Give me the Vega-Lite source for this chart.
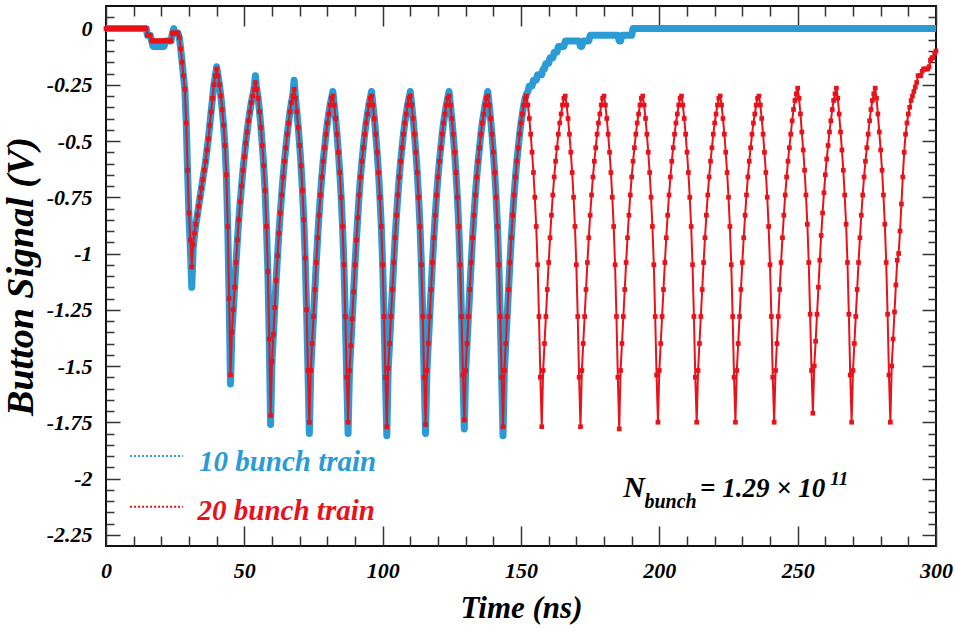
{
"$schema": "https://vega.github.io/schema/vega-lite/v6.json",
"width": 830, "height": 540,
"autosize": {"type": "none"},
"padding": {"left": 106, "top": 6, "right": 19, "bottom": 85},
"background": "white",
"config": {"view": {"stroke": "#111", "strokeWidth": 2}, "axis": {"grid": false, "domain": false, "tickColor": "#333", "tickWidth": 1.5, "labelFont": "Liberation Serif", "labelFontWeight": "bold", "labelFontStyle": "italic", "labelColor": "black", "titleFont": "Liberation Serif", "titleFontWeight": "bold", "titleFontStyle": "italic", "titleColor": "black"}},
"data": {"values": [
{"t":0,"r":0,"b":0},{"t":0.5,"r":0,"b":0},{"t":1,"r":0,"b":0},{"t":1.5,"r":0,"b":0},{"t":2,"r":0,"b":0},{"t":2.5,"r":0,"b":0},{"t":3,"r":0,"b":0},{"t":3.5,"r":0,"b":0},{"t":4,"r":0,"b":0},{"t":4.5,"r":0,"b":0},{"t":5,"r":0,"b":0},{"t":5.5,"r":0,"b":0},{"t":6,"r":0,"b":0},{"t":6.5,"r":0,"b":0},{"t":7,"r":0,"b":0},{"t":7.5,"r":0,"b":0},{"t":8,"r":0,"b":0},{"t":8.5,"r":0,"b":0},{"t":9,"r":0,"b":0},{"t":9.5,"r":0,"b":0},{"t":10,"r":0,"b":0},{"t":10.5,"r":0,"b":0},{"t":11,"r":0,"b":0},{"t":11.5,"r":0,"b":0},{"t":12,"r":0,"b":0},{"t":12.5,"r":0,"b":0},{"t":13,"r":0,"b":0},{"t":13.5,"r":0,"b":0},{"t":14,"r":0,"b":0},{"t":14.5,"r":0,"b":0},
{"t":15,"r":-0.03,"b":-0.03},{"t":15.5,"r":-0.03,"b":-0.03},{"t":16,"r":-0.03,"b":-0.03},{"t":16.5,"r":-0.055,"b":-0.055},{"t":17,"r":-0.055,"b":-0.08},{"t":17.5,"r":-0.055,"b":-0.08},{"t":18,"r":-0.055,"b":-0.08},{"t":18.5,"r":-0.055,"b":-0.08},{"t":19,"r":-0.055,"b":-0.08},{"t":19.5,"r":-0.055,"b":-0.08},{"t":20,"r":-0.055,"b":-0.08},{"t":20.5,"r":-0.055,"b":-0.08},{"t":21,"r":-0.055,"b":-0.08},{"t":21.5,"r":-0.055,"b":-0.055},{"t":22,"r":-0.055,"b":-0.055},{"t":22.5,"r":-0.055,"b":-0.055},{"t":23,"r":-0.055,"b":-0.055},{"t":23.5,"r":-0.055,"b":-0.055},{"t":24,"r":-0.02,"b":-0.02},{"t":24.5,"r":-0.02,"b":0},{"t":25,"r":-0.02,"b":-0.02},{"t":25.5,"r":-0.02,"b":-0.02},{"t":26,"r":-0.02,"b":-0.02},{"t":26.5,"r":-0.04,"b":-0.04},{"t":27,"r":-0.09,"b":-0.09},{"t":27.5,"r":-0.15,"b":-0.15},{"t":28,"r":-0.21,"b":-0.21},{"t":28.5,"r":-0.27,"b":-0.27},{"t":29,"r":-0.42,"b":-0.42},{"t":29.5,"r":-0.63,"b":-0.64},{"t":30,"r":-0.82,"b":-0.84},{"t":30.5,"r":-0.94,"b":-0.98},{"t":31,"r":-1.06,"b":-1.15},{"t":31.5,"r":-0.96,"b":-0.98},{"t":32,"r":-0.91,"b":-0.92},{"t":32.5,"r":-0.87,"b":-0.87},{"t":33,"r":-0.83,"b":-0.83},{"t":33.5,"r":-0.79,"b":-0.79},{"t":34,"r":-0.75,"b":-0.75},{"t":34.5,"r":-0.71,"b":-0.71},{"t":35,"r":-0.67,"b":-0.67},{"t":35.5,"r":-0.63,"b":-0.63},{"t":36,"r":-0.59,"b":-0.59},{"t":36.5,"r":-0.54,"b":-0.54},{"t":37,"r":-0.49,"b":-0.49},{"t":37.5,"r":-0.43,"b":-0.43},{"t":38,"r":-0.37,"b":-0.37},{"t":38.5,"r":-0.31,"b":-0.31},{"t":39,"r":-0.25,"b":-0.25},{"t":39.5,"r":-0.21,"b":-0.21},{"t":40,"r":-0.18,"b":-0.17},{"t":40.5,"r":-0.21,"b":-0.21},{"t":41,"r":-0.25,"b":-0.25},{"t":41.5,"r":-0.3,"b":-0.3},{"t":42,"r":-0.36,"b":-0.36},{"t":42.5,"r":-0.43,"b":-0.43},{"t":43,"r":-0.52,"b":-0.52},{"t":43.5,"r":-0.65,"b":-0.65},{"t":44,"r":-0.88,"b":-0.88},{"t":44.5,"r":-1.2,"b":-1.2},
{"t":45,"r":-1.54,"b":-1.58},{"t":45.5,"r":-1.35,"b":-1.35},{"t":46,"r":-1.25,"b":-1.25},{"t":46.5,"r":-1.15,"b":-1.15},{"t":47,"r":-1.04,"b":-1.04},{"t":47.5,"r":-0.94,"b":-0.94},{"t":48,"r":-0.85,"b":-0.85},{"t":48.5,"r":-0.77,"b":-0.77},{"t":49,"r":-0.7,"b":-0.7},{"t":49.5,"r":-0.63,"b":-0.63},{"t":50,"r":-0.57,"b":-0.57},{"t":50.5,"r":-0.51,"b":-0.51},{"t":51,"r":-0.46,"b":-0.46},{"t":51.5,"r":-0.41,"b":-0.41},{"t":52,"r":-0.37,"b":-0.37},{"t":52.5,"r":-0.33,"b":-0.33},{"t":53,"r":-0.3,"b":-0.3},{"t":53.5,"r":-0.27,"b":-0.27},{"t":54,"r":-0.24,"b":-0.21},{"t":54.5,"r":-0.27,"b":-0.27},{"t":55,"r":-0.31,"b":-0.31},{"t":55.5,"r":-0.37,"b":-0.37},{"t":56,"r":-0.44,"b":-0.44},{"t":56.5,"r":-0.52,"b":-0.52},{"t":57,"r":-0.61,"b":-0.61},{"t":57.5,"r":-0.72,"b":-0.72},{"t":58,"r":-0.88,"b":-0.88},{"t":58.5,"r":-1.08,"b":-1.08},{"t":59,"r":-1.38,"b":-1.38},
{"t":59.5,"r":-1.72,"b":-1.76},{"t":60,"r":-1.48,"b":-1.48},{"t":60.5,"r":-1.36,"b":-1.36},{"t":61,"r":-1.24,"b":-1.24},{"t":61.5,"r":-1.12,"b":-1.12},{"t":62,"r":-1.01,"b":-1.01},{"t":62.5,"r":-0.91,"b":-0.91},{"t":63,"r":-0.82,"b":-0.82},{"t":63.5,"r":-0.74,"b":-0.74},{"t":64,"r":-0.66,"b":-0.66},{"t":64.5,"r":-0.59,"b":-0.59},{"t":65,"r":-0.53,"b":-0.53},{"t":65.5,"r":-0.47,"b":-0.47},{"t":66,"r":-0.42,"b":-0.42},{"t":66.5,"r":-0.37,"b":-0.37},{"t":67,"r":-0.33,"b":-0.33},{"t":67.5,"r":-0.3,"b":-0.3},{"t":68,"r":-0.27,"b":-0.23},{"t":68.5,"r":-0.31,"b":-0.31},{"t":69,"r":-0.37,"b":-0.37},{"t":69.5,"r":-0.44,"b":-0.44},{"t":70,"r":-0.52,"b":-0.52},{"t":70.5,"r":-0.61,"b":-0.61},{"t":71,"r":-0.72,"b":-0.72},{"t":71.5,"r":-0.85,"b":-0.85},{"t":72,"r":-1.02,"b":-1.02},{"t":72.5,"r":-1.25,"b":-1.25},{"t":73,"r":-1.52,"b":-1.52},
{"t":73.5,"r":-1.75,"b":-1.8},{"t":74,"r":-1.52,"b":-1.52},{"t":74.5,"r":-1.4,"b":-1.4},{"t":75,"r":-1.28,"b":-1.28},{"t":75.5,"r":-1.16,"b":-1.16},{"t":76,"r":-1.04,"b":-1.04},{"t":76.5,"r":-0.93,"b":-0.93},{"t":77,"r":-0.83,"b":-0.83},{"t":77.5,"r":-0.74,"b":-0.74},{"t":78,"r":-0.66,"b":-0.66},{"t":78.5,"r":-0.59,"b":-0.59},{"t":79,"r":-0.53,"b":-0.53},{"t":79.5,"r":-0.47,"b":-0.47},{"t":80,"r":-0.42,"b":-0.42},{"t":80.5,"r":-0.38,"b":-0.38},{"t":81,"r":-0.34,"b":-0.34},{"t":81.5,"r":-0.31,"b":-0.31},{"t":82,"r":-0.3,"b":-0.28},{"t":82.5,"r":-0.34,"b":-0.34},{"t":83,"r":-0.4,"b":-0.4},{"t":83.5,"r":-0.47,"b":-0.47},{"t":84,"r":-0.55,"b":-0.55},{"t":84.5,"r":-0.64,"b":-0.64},{"t":85,"r":-0.75,"b":-0.75},{"t":85.5,"r":-0.88,"b":-0.88},{"t":86,"r":-1.05,"b":-1.05},{"t":86.5,"r":-1.28,"b":-1.28},{"t":87,"r":-1.55,"b":-1.55},
{"t":87.5,"r":-1.75,"b":-1.8},{"t":88,"r":-1.52,"b":-1.52},{"t":88.5,"r":-1.41,"b":-1.41},{"t":89,"r":-1.29,"b":-1.29},{"t":89.5,"r":-1.17,"b":-1.17},{"t":90,"r":-1.05,"b":-1.05},{"t":90.5,"r":-0.94,"b":-0.94},{"t":91,"r":-0.84,"b":-0.84},{"t":91.5,"r":-0.74,"b":-0.74},{"t":92,"r":-0.66,"b":-0.66},{"t":92.5,"r":-0.59,"b":-0.59},{"t":93,"r":-0.53,"b":-0.53},{"t":93.5,"r":-0.47,"b":-0.47},{"t":94,"r":-0.42,"b":-0.42},{"t":94.5,"r":-0.38,"b":-0.38},{"t":95,"r":-0.34,"b":-0.34},{"t":95.5,"r":-0.31,"b":-0.31},{"t":96,"r":-0.3,"b":-0.28},{"t":96.5,"r":-0.34,"b":-0.34},{"t":97,"r":-0.4,"b":-0.4},{"t":97.5,"r":-0.47,"b":-0.47},{"t":98,"r":-0.55,"b":-0.55},{"t":98.5,"r":-0.64,"b":-0.64},{"t":99,"r":-0.75,"b":-0.75},{"t":99.5,"r":-0.88,"b":-0.88},{"t":100,"r":-1.05,"b":-1.05},{"t":100.5,"r":-1.28,"b":-1.28},{"t":101,"r":-1.55,"b":-1.55},
{"t":101.5,"r":-1.77,"b":-1.81},{"t":102,"r":-1.51,"b":-1.51},{"t":102.5,"r":-1.4,"b":-1.4},{"t":103,"r":-1.28,"b":-1.28},{"t":103.5,"r":-1.16,"b":-1.16},{"t":104,"r":-1.04,"b":-1.04},{"t":104.5,"r":-0.93,"b":-0.93},{"t":105,"r":-0.83,"b":-0.83},{"t":105.5,"r":-0.74,"b":-0.74},{"t":106,"r":-0.66,"b":-0.66},{"t":106.5,"r":-0.59,"b":-0.59},{"t":107,"r":-0.53,"b":-0.53},{"t":107.5,"r":-0.47,"b":-0.47},{"t":108,"r":-0.42,"b":-0.42},{"t":108.5,"r":-0.38,"b":-0.38},{"t":109,"r":-0.34,"b":-0.34},{"t":109.5,"r":-0.31,"b":-0.31},{"t":110,"r":-0.3,"b":-0.28},{"t":110.5,"r":-0.34,"b":-0.34},{"t":111,"r":-0.4,"b":-0.4},{"t":111.5,"r":-0.47,"b":-0.47},{"t":112,"r":-0.55,"b":-0.55},{"t":112.5,"r":-0.64,"b":-0.64},{"t":113,"r":-0.75,"b":-0.75},{"t":113.5,"r":-0.88,"b":-0.88},{"t":114,"r":-1.05,"b":-1.05},{"t":114.5,"r":-1.28,"b":-1.28},{"t":115,"r":-1.55,"b":-1.55},
{"t":115.5,"r":-1.76,"b":-1.8},{"t":116,"r":-1.52,"b":-1.52},{"t":116.5,"r":-1.4,"b":-1.4},{"t":117,"r":-1.28,"b":-1.28},{"t":117.5,"r":-1.16,"b":-1.16},{"t":118,"r":-1.04,"b":-1.04},{"t":118.5,"r":-0.93,"b":-0.93},{"t":119,"r":-0.83,"b":-0.83},{"t":119.5,"r":-0.74,"b":-0.74},{"t":120,"r":-0.66,"b":-0.66},{"t":120.5,"r":-0.59,"b":-0.59},{"t":121,"r":-0.53,"b":-0.53},{"t":121.5,"r":-0.47,"b":-0.47},{"t":122,"r":-0.42,"b":-0.42},{"t":122.5,"r":-0.38,"b":-0.38},{"t":123,"r":-0.34,"b":-0.34},{"t":123.5,"r":-0.31,"b":-0.31},{"t":124,"r":-0.3,"b":-0.28},{"t":124.5,"r":-0.34,"b":-0.34},{"t":125,"r":-0.4,"b":-0.4},{"t":125.5,"r":-0.47,"b":-0.47},{"t":126,"r":-0.55,"b":-0.55},{"t":126.5,"r":-0.64,"b":-0.64},{"t":127,"r":-0.75,"b":-0.75},{"t":127.5,"r":-0.88,"b":-0.88},{"t":128,"r":-1.05,"b":-1.05},{"t":128.5,"r":-1.28,"b":-1.28},{"t":129,"r":-1.54,"b":-1.54},
{"t":129.5,"r":-1.74,"b":-1.78},{"t":130,"r":-1.52,"b":-1.52},{"t":130.5,"r":-1.4,"b":-1.4},{"t":131,"r":-1.28,"b":-1.28},{"t":131.5,"r":-1.16,"b":-1.16},{"t":132,"r":-1.04,"b":-1.04},{"t":132.5,"r":-0.93,"b":-0.93},{"t":133,"r":-0.83,"b":-0.83},{"t":133.5,"r":-0.74,"b":-0.74},{"t":134,"r":-0.66,"b":-0.66},{"t":134.5,"r":-0.59,"b":-0.59},{"t":135,"r":-0.53,"b":-0.53},{"t":135.5,"r":-0.47,"b":-0.47},{"t":136,"r":-0.42,"b":-0.42},{"t":136.5,"r":-0.38,"b":-0.38},{"t":137,"r":-0.34,"b":-0.34},{"t":137.5,"r":-0.31,"b":-0.31},{"t":138,"r":-0.3,"b":-0.28},{"t":138.5,"r":-0.34,"b":-0.34},{"t":139,"r":-0.4,"b":-0.4},{"t":139.5,"r":-0.47,"b":-0.47},{"t":140,"r":-0.55,"b":-0.55},{"t":140.5,"r":-0.64,"b":-0.64},{"t":141,"r":-0.75,"b":-0.75},{"t":141.5,"r":-0.88,"b":-0.88},{"t":142,"r":-1.05,"b":-1.05},{"t":142.5,"r":-1.28,"b":-1.28},{"t":143,"r":-1.55,"b":-1.55},
{"t":143.5,"r":-1.77,"b":-1.81},{"t":144,"r":-1.52,"b":-1.52},{"t":144.5,"r":-1.4,"b":-1.4},{"t":145,"r":-1.28,"b":-1.28},{"t":145.5,"r":-1.16,"b":-1.16},{"t":146,"r":-1.04,"b":-1.04},{"t":146.5,"r":-0.93,"b":-0.93},{"t":147,"r":-0.83,"b":-0.83},{"t":147.5,"r":-0.74,"b":-0.74},{"t":148,"r":-0.66,"b":-0.66},{"t":148.5,"r":-0.59,"b":-0.59},{"t":149,"r":-0.53,"b":-0.53},{"t":149.5,"r":-0.47,"b":-0.47},{"t":150,"r":-0.42,"b":-0.42},{"t":150.5,"r":-0.38,"b":-0.38},{"t":151,"r":-0.34,"b":-0.34},{"t":151.5,"r":-0.31,"b":-0.31},{"t":152,"r":-0.3,"b":-0.29},{"t":152.5,"r":-0.34,"b":-0.28},{"t":153,"r":-0.4,"b":-0.255},{"t":153.5,"r":-0.47,"b":-0.255},{"t":154,"r":-0.55,"b":-0.255},{"t":154.5,"r":-0.64,"b":-0.23},{"t":155,"r":-0.75,"b":-0.23},{"t":155.5,"r":-0.88,"b":-0.23},{"t":156,"r":-1.05,"b":-0.205},{"t":156.5,"r":-1.28,"b":-0.205},{"t":157,"r":-1.55,"b":-0.205},
{"t":157.5,"r":-1.77,"b":-0.205},{"t":158,"r":-1.52,"b":-0.18},{"t":158.5,"r":-1.4,"b":-0.18},{"t":159,"r":-1.28,"b":-0.155},{"t":159.5,"r":-1.16,"b":-0.155},{"t":160,"r":-1.04,"b":-0.155},{"t":160.5,"r":-0.93,"b":-0.13},{"t":161,"r":-0.83,"b":-0.13},{"t":161.5,"r":-0.74,"b":-0.13},{"t":162,"r":-0.66,"b":-0.105},{"t":162.5,"r":-0.59,"b":-0.105},{"t":163,"r":-0.53,"b":-0.105},{"t":163.5,"r":-0.47,"b":-0.08},{"t":164,"r":-0.42,"b":-0.08},{"t":164.5,"r":-0.38,"b":-0.08},{"t":165,"r":-0.34,"b":-0.08},{"t":165.5,"r":-0.31,"b":-0.08},{"t":166,"r":-0.3,"b":-0.055},{"t":166.5,"r":-0.34,"b":-0.055},{"t":167,"r":-0.4,"b":-0.055},{"t":167.5,"r":-0.47,"b":-0.055},{"t":168,"r":-0.55,"b":-0.055},{"t":168.5,"r":-0.64,"b":-0.055},{"t":169,"r":-0.75,"b":-0.055},{"t":169.5,"r":-0.88,"b":-0.055},{"t":170,"r":-1.05,"b":-0.055},{"t":170.5,"r":-1.28,"b":-0.055},{"t":171,"r":-1.55,"b":-0.055},
{"t":171.5,"r":-1.77,"b":-0.08},{"t":172,"r":-1.52,"b":-0.08},{"t":172.5,"r":-1.4,"b":-0.055},{"t":173,"r":-1.28,"b":-0.055},{"t":173.5,"r":-1.16,"b":-0.055},{"t":174,"r":-1.04,"b":-0.055},{"t":174.5,"r":-0.93,"b":-0.055},{"t":175,"r":-0.83,"b":-0.03},{"t":175.5,"r":-0.74,"b":-0.03},{"t":176,"r":-0.66,"b":-0.03},{"t":176.5,"r":-0.59,"b":-0.03},{"t":177,"r":-0.53,"b":-0.03},{"t":177.5,"r":-0.47,"b":-0.03},{"t":178,"r":-0.42,"b":-0.03},{"t":178.5,"r":-0.38,"b":-0.03},{"t":179,"r":-0.34,"b":-0.03},{"t":179.5,"r":-0.31,"b":-0.03},{"t":180,"r":-0.3,"b":-0.03},{"t":180.5,"r":-0.34,"b":-0.03},{"t":181,"r":-0.4,"b":-0.03},{"t":181.5,"r":-0.47,"b":-0.03},{"t":182,"r":-0.55,"b":-0.03},{"t":182.5,"r":-0.64,"b":-0.03},{"t":183,"r":-0.75,"b":-0.03},{"t":183.5,"r":-0.88,"b":-0.03},{"t":184,"r":-1.05,"b":-0.03},{"t":184.5,"r":-1.28,"b":-0.03},{"t":185,"r":-1.55,"b":-0.03},
{"t":185.5,"r":-1.78,"b":-0.055},{"t":186,"r":-1.52,"b":-0.055},{"t":186.5,"r":-1.4,"b":-0.03},{"t":187,"r":-1.28,"b":-0.03},{"t":187.5,"r":-1.16,"b":-0.03},{"t":188,"r":-1.04,"b":-0.03},{"t":188.5,"r":-0.93,"b":-0.03},{"t":189,"r":-0.83,"b":-0.03},{"t":189.5,"r":-0.74,"b":-0.03},{"t":190,"r":-0.66,"b":-0.03},{"t":190.5,"r":-0.59,"b":0},{"t":191,"r":-0.53,"b":0},{"t":191.5,"r":-0.47,"b":0},{"t":192,"r":-0.42,"b":0},{"t":192.5,"r":-0.38,"b":0},{"t":193,"r":-0.34,"b":0},{"t":193.5,"r":-0.31,"b":0},{"t":194,"r":-0.3,"b":0},{"t":194.5,"r":-0.34,"b":0},{"t":195,"r":-0.4,"b":0},{"t":195.5,"r":-0.47,"b":0},{"t":196,"r":-0.55,"b":0},{"t":196.5,"r":-0.64,"b":0},{"t":197,"r":-0.75,"b":0},{"t":197.5,"r":-0.88,"b":0},{"t":198,"r":-1.05,"b":0},{"t":198.5,"r":-1.28,"b":0},{"t":199,"r":-1.54,"b":0},
{"t":199.5,"r":-1.75,"b":0},{"t":200,"r":-1.52,"b":0},{"t":200.5,"r":-1.4,"b":0},{"t":201,"r":-1.28,"b":0},{"t":201.5,"r":-1.16,"b":0},{"t":202,"r":-1.04,"b":0},{"t":202.5,"r":-0.93,"b":0},{"t":203,"r":-0.83,"b":0},{"t":203.5,"r":-0.74,"b":0},{"t":204,"r":-0.66,"b":0},{"t":204.5,"r":-0.59,"b":0},{"t":205,"r":-0.53,"b":0},{"t":205.5,"r":-0.47,"b":0},{"t":206,"r":-0.42,"b":0},{"t":206.5,"r":-0.38,"b":0},{"t":207,"r":-0.34,"b":0},{"t":207.5,"r":-0.31,"b":0},{"t":208,"r":-0.3,"b":0},{"t":208.5,"r":-0.34,"b":0},{"t":209,"r":-0.4,"b":0},{"t":209.5,"r":-0.47,"b":0},{"t":210,"r":-0.55,"b":0},{"t":210.5,"r":-0.64,"b":0},{"t":211,"r":-0.75,"b":0},{"t":211.5,"r":-0.88,"b":0},{"t":212,"r":-1.05,"b":0},{"t":212.5,"r":-1.28,"b":0},{"t":213,"r":-1.55,"b":0},
{"t":213.5,"r":-1.75,"b":0},{"t":214,"r":-1.52,"b":0},{"t":214.5,"r":-1.4,"b":0},{"t":215,"r":-1.28,"b":0},{"t":215.5,"r":-1.16,"b":0},{"t":216,"r":-1.04,"b":0},{"t":216.5,"r":-0.93,"b":0},{"t":217,"r":-0.83,"b":0},{"t":217.5,"r":-0.74,"b":0},{"t":218,"r":-0.66,"b":0},{"t":218.5,"r":-0.59,"b":0},{"t":219,"r":-0.53,"b":0},{"t":219.5,"r":-0.47,"b":0},{"t":220,"r":-0.42,"b":0},{"t":220.5,"r":-0.38,"b":0},{"t":221,"r":-0.34,"b":0},{"t":221.5,"r":-0.31,"b":0},{"t":222,"r":-0.3,"b":0},{"t":222.5,"r":-0.34,"b":0},{"t":223,"r":-0.4,"b":0},{"t":223.5,"r":-0.47,"b":0},{"t":224,"r":-0.55,"b":0},{"t":224.5,"r":-0.64,"b":0},{"t":225,"r":-0.75,"b":0},{"t":225.5,"r":-0.88,"b":0},{"t":226,"r":-1.05,"b":0},{"t":226.5,"r":-1.28,"b":0},{"t":227,"r":-1.55,"b":0},
{"t":227.5,"r":-1.75,"b":0},{"t":228,"r":-1.52,"b":0},{"t":228.5,"r":-1.4,"b":0},{"t":229,"r":-1.28,"b":0},{"t":229.5,"r":-1.16,"b":0},{"t":230,"r":-1.04,"b":0},{"t":230.5,"r":-0.93,"b":0},{"t":231,"r":-0.83,"b":0},{"t":231.5,"r":-0.74,"b":0},{"t":232,"r":-0.66,"b":0},{"t":232.5,"r":-0.59,"b":0},{"t":233,"r":-0.53,"b":0},{"t":233.5,"r":-0.47,"b":0},{"t":234,"r":-0.42,"b":0},{"t":234.5,"r":-0.38,"b":0},{"t":235,"r":-0.34,"b":0},{"t":235.5,"r":-0.31,"b":0},{"t":236,"r":-0.3,"b":0},{"t":236.5,"r":-0.34,"b":0},{"t":237,"r":-0.4,"b":0},{"t":237.5,"r":-0.47,"b":0},{"t":238,"r":-0.55,"b":0},{"t":238.5,"r":-0.64,"b":0},{"t":239,"r":-0.75,"b":0},{"t":239.5,"r":-0.88,"b":0},{"t":240,"r":-1.05,"b":0},{"t":240.5,"r":-1.28,"b":0},{"t":241,"r":-1.55,"b":0},
{"t":241.5,"r":-1.75,"b":0},{"t":242,"r":-1.52,"b":0},{"t":242.5,"r":-1.4,"b":0},{"t":243,"r":-1.28,"b":0},{"t":243.5,"r":-1.16,"b":0},{"t":244,"r":-1.04,"b":0},{"t":244.5,"r":-0.93,"b":0},{"t":245,"r":-0.83,"b":0},{"t":245.5,"r":-0.74,"b":0},{"t":246,"r":-0.66,"b":0},{"t":246.5,"r":-0.59,"b":0},{"t":247,"r":-0.53,"b":0},{"t":247.5,"r":-0.47,"b":0},{"t":248,"r":-0.41,"b":0},{"t":248.5,"r":-0.36,"b":0},{"t":249,"r":-0.32,"b":0},{"t":249.5,"r":-0.29,"b":0},{"t":250,"r":-0.265,"b":0},{"t":250.5,"r":-0.31,"b":0},{"t":251,"r":-0.38,"b":0},{"t":251.5,"r":-0.46,"b":0},{"t":252,"r":-0.54,"b":0},{"t":252.5,"r":-0.63,"b":0},{"t":253,"r":-0.74,"b":0},{"t":253.5,"r":-0.87,"b":0},{"t":254,"r":-1.04,"b":0},{"t":254.5,"r":-1.27,"b":0},{"t":255,"r":-1.52,"b":0},
{"t":255.5,"r":-1.71,"b":0},{"t":256,"r":-1.5,"b":0},{"t":256.5,"r":-1.39,"b":0},{"t":257,"r":-1.27,"b":0},{"t":257.5,"r":-1.15,"b":0},{"t":258,"r":-1.03,"b":0},{"t":258.5,"r":-0.92,"b":0},{"t":259,"r":-0.82,"b":0},{"t":259.5,"r":-0.73,"b":0},{"t":260,"r":-0.65,"b":0},{"t":260.5,"r":-0.58,"b":0},{"t":261,"r":-0.52,"b":0},{"t":261.5,"r":-0.46,"b":0},{"t":262,"r":-0.41,"b":0},{"t":262.5,"r":-0.36,"b":0},{"t":263,"r":-0.32,"b":0},{"t":263.5,"r":-0.29,"b":0},{"t":264,"r":-0.265,"b":0},{"t":264.5,"r":-0.31,"b":0},{"t":265,"r":-0.38,"b":0},{"t":265.5,"r":-0.46,"b":0},{"t":266,"r":-0.54,"b":0},{"t":266.5,"r":-0.63,"b":0},{"t":267,"r":-0.74,"b":0},{"t":267.5,"r":-0.87,"b":0},{"t":268,"r":-1.04,"b":0},{"t":268.5,"r":-1.27,"b":0},{"t":269,"r":-1.54,"b":0},
{"t":269.5,"r":-1.75,"b":0},{"t":270,"r":-1.52,"b":0},{"t":270.5,"r":-1.4,"b":0},{"t":271,"r":-1.28,"b":0},{"t":271.5,"r":-1.16,"b":0},{"t":272,"r":-1.04,"b":0},{"t":272.5,"r":-0.93,"b":0},{"t":273,"r":-0.83,"b":0},{"t":273.5,"r":-0.74,"b":0},{"t":274,"r":-0.66,"b":0},{"t":274.5,"r":-0.59,"b":0},{"t":275,"r":-0.53,"b":0},{"t":275.5,"r":-0.47,"b":0},{"t":276,"r":-0.41,"b":0},{"t":276.5,"r":-0.36,"b":0},{"t":277,"r":-0.32,"b":0},{"t":277.5,"r":-0.29,"b":0},{"t":278,"r":-0.265,"b":0},{"t":278.5,"r":-0.31,"b":0},{"t":279,"r":-0.38,"b":0},{"t":279.5,"r":-0.46,"b":0},{"t":280,"r":-0.54,"b":0},{"t":280.5,"r":-0.63,"b":0},{"t":281,"r":-0.74,"b":0},{"t":281.5,"r":-0.87,"b":0},{"t":282,"r":-1.04,"b":0},{"t":282.5,"r":-1.27,"b":0},{"t":283,"r":-1.54,"b":0},
{"t":283.5,"r":-1.75,"b":0},{"t":284,"r":-1.5,"b":0},{"t":284.5,"r":-1.38,"b":0},{"t":285,"r":-1.26,"b":0},{"t":285.5,"r":-1.14,"b":0},{"t":286,"r":-1.03,"b":0},{"t":286.5,"r":-1,"b":0},{"t":287,"r":-0.9,"b":0},{"t":287.5,"r":-0.78,"b":0},{"t":288,"r":-0.66,"b":0},{"t":288.5,"r":-0.55,"b":0},{"t":289,"r":-0.47,"b":0},{"t":289.5,"r":-0.42,"b":0},{"t":290,"r":-0.38,"b":0},{"t":290.5,"r":-0.35,"b":0},{"t":291,"r":-0.32,"b":0},{"t":291.5,"r":-0.3,"b":0},{"t":292,"r":-0.28,"b":0},{"t":292.5,"r":-0.26,"b":0},{"t":293,"r":-0.24,"b":0},{"t":293.5,"r":-0.21,"b":0},{"t":294,"r":-0.21,"b":0},{"t":294.5,"r":-0.21,"b":0},{"t":295,"r":-0.19,"b":0},{"t":295.5,"r":-0.18,"b":0},{"t":296,"r":-0.18,"b":0},{"t":296.5,"r":-0.18,"b":0},{"t":297,"r":-0.18,"b":0},{"t":297.5,"r":-0.17,"b":0},{"t":298,"r":-0.14,"b":0},{"t":298.5,"r":-0.13,"b":0},{"t":299,"r":-0.13,"b":0},{"t":299.5,"r":-0.11,"b":0},{"t":300,"r":-0.1,"b":0}
]},
"layer": [
{"mark": {"type": "line", "color": "#2b9bd6", "strokeWidth": 7, "strokeJoin": "round", "strokeCap": "butt"},
 "encoding": {
  "x": {"field": "t", "type": "quantitative", "scale": {"domain": [0, 300], "nice": false, "zero": false},
        "axis": {"orient": "bottom", "values": [0,50,100,150,200,250,300], "tickSize": -20, "labelFontSize": 22, "labelPadding": 34, "labelFlush": false, "labelOverlap": false, "labelExpr": "toString(datum.value)", "title": "Time (ns)", "titleFontSize": 31, "titlePadding": 12}},
  "y": {"field": "b", "type": "quantitative", "scale": {"domain": [-2.3, 0.1], "nice": false, "zero": false},
        "axis": {"orient": "left", "values": [0,-0.25,-0.5,-0.75,-1,-1.25,-1.5,-1.75,-2,-2.25], "tickSize": -14, "labelFontSize": 22, "labelPadding": 28, "labelFlush": false, "labelOverlap": false, "labelExpr": "toString(datum.value)", "title": "Button Signal (V)", "titleFontSize": 38, "titlePadding": 6}}
 }},
{"mark": {"type": "line", "color": "#e8121a", "strokeWidth": 2, "strokeJoin": "round"},
 "encoding": {
  "x": {"field": "t", "type": "quantitative", "scale": {"domain": [0, 300], "nice": false, "zero": false},
        "axis": {"orient": "top", "values": [0,50,100,150,200,250,300], "tickSize": -20, "labels": false, "title": null}},
  "y": {"field": "r", "type": "quantitative", "scale": {"domain": [-2.3, 0.1], "nice": false, "zero": false},
        "axis": {"orient": "right", "values": [0,-0.25,-0.5,-0.75,-1,-1.25,-1.5,-1.75,-2,-2.25], "tickSize": -14, "labels": false, "title": null}}
 }},
{"mark": {"type": "point", "shape": "square", "filled": true, "size": 22, "color": "#e8121a", "opacity": 1},
 "encoding": {
  "x": {"field": "t", "type": "quantitative", "scale": {"domain": [0, 300], "nice": false, "zero": false},
        "axis": {"orient": "bottom", "values": [10,20,30,40,60,70,80,90,110,120,130,140,160,170,180,190,210,220,230,240,260,270,280,290], "tickSize": -10, "labels": false, "title": null}},
  "y": {"field": "r", "type": "quantitative", "scale": {"domain": [-2.3, 0.1], "nice": false, "zero": false},
        "axis": {"orient": "left", "values": [0.05,-0.05,-0.1,-0.15,-0.2,-0.3,-0.35,-0.4,-0.45,-0.55,-0.6,-0.65,-0.7,-0.8,-0.85,-0.9,-0.95,-1.05,-1.1,-1.15,-1.2,-1.3,-1.35,-1.4,-1.45,-1.55,-1.6,-1.65,-1.7,-1.8,-1.85,-1.9,-1.95,-2.05,-2.1,-2.15,-2.2], "tickSize": -8, "labels": false, "title": null}}
 }},
{"data": {"values": [{"s": "10 bunch train"}]},
 "mark": {"type": "rule", "color": "#2b9bd6", "strokeWidth": 2, "strokeDash": [2, 2]},
 "encoding": {
  "x": {"datum": 8.7, "type": "quantitative", "scale": {"domain": [0, 300], "nice": false, "zero": false},
        "axis": {"orient": "top", "values": [10,20,30,40,60,70,80,90,110,120,130,140,160,170,180,190,210,220,230,240,260,270,280,290], "tickSize": -10, "labels": false, "title": null}},
  "x2": {"datum": 27.8},
  "y": {"datum": -1.9, "type": "quantitative", "scale": {"domain": [-2.3, 0.1], "nice": false, "zero": false},
        "axis": {"orient": "right", "values": [0.05,-0.05,-0.1,-0.15,-0.2,-0.3,-0.35,-0.4,-0.45,-0.55,-0.6,-0.65,-0.7,-0.8,-0.85,-0.9,-0.95,-1.05,-1.1,-1.15,-1.2,-1.3,-1.35,-1.4,-1.45,-1.55,-1.6,-1.65,-1.7,-1.8,-1.85,-1.9,-1.95,-2.05,-2.1,-2.15,-2.2], "tickSize": -8, "labels": false, "title": null}}
 }},
{"data": {"values": [{"s": "20 bunch train"}]},
 "mark": {"type": "rule", "color": "#e8121a", "strokeWidth": 2, "strokeDash": [2, 2]},
 "encoding": {"x": {"datum": 8.7, "type": "quantitative", "axis": null}, "x2": {"datum": 27.8}, "y": {"datum": -2.125, "type": "quantitative", "axis": null}}},
{"data": {"values": [{"s": "10 bunch train"}]},
 "mark": {"type": "text", "align": "left", "baseline": "alphabetic", "font": "Liberation Serif", "fontSize": 29, "fontWeight": "bold", "fontStyle": "italic", "color": "#2b9bd6"},
 "encoding": {"x": {"datum": 33.6, "type": "quantitative", "axis": null}, "y": {"datum": -1.965, "type": "quantitative", "axis": null}, "text": {"field": "s"}}},
{"data": {"values": [{"s": "20 bunch train"}]},
 "mark": {"type": "text", "align": "left", "baseline": "alphabetic", "font": "Liberation Serif", "fontSize": 29, "fontWeight": "bold", "fontStyle": "italic", "color": "#e8121a"},
 "encoding": {"x": {"datum": 33.1, "type": "quantitative", "axis": null}, "y": {"datum": -2.184, "type": "quantitative", "axis": null}, "text": {"field": "s"}}},
{"data": {"values": [{"s": "N"}]},
 "mark": {"type": "text", "align": "left", "baseline": "alphabetic", "font": "Liberation Serif", "fontSize": 30, "fontWeight": "bold", "fontStyle": "italic", "color": "black"},
 "encoding": {"x": {"datum": 187, "type": "quantitative", "axis": null}, "y": {"datum": -2.081, "type": "quantitative", "axis": null}, "text": {"field": "s"}}},
{"data": {"values": [{"s": "bunch"}]},
 "mark": {"type": "text", "align": "left", "baseline": "alphabetic", "font": "Liberation Serif", "fontSize": 20, "fontWeight": "bold", "fontStyle": "italic", "color": "black"},
 "encoding": {"x": {"datum": 194.6, "type": "quantitative", "axis": null}, "y": {"datum": -2.133, "type": "quantitative", "axis": null}, "text": {"field": "s"}}},
{"data": {"values": [{"s": "= 1.29 × 10"}]},
 "mark": {"type": "text", "align": "left", "baseline": "alphabetic", "font": "Liberation Serif", "fontSize": 27, "fontWeight": "bold", "fontStyle": "italic", "color": "black"},
 "encoding": {"x": {"datum": 214.7, "type": "quantitative", "axis": null}, "y": {"datum": -2.081, "type": "quantitative", "axis": null}, "text": {"field": "s"}}},
{"data": {"values": [{"s": "11"}]},
 "mark": {"type": "text", "align": "left", "baseline": "alphabetic", "font": "Liberation Serif", "fontSize": 19, "fontWeight": "bold", "fontStyle": "italic", "color": "black"},
 "encoding": {"x": {"datum": 261.8, "type": "quantitative", "axis": null}, "y": {"datum": -2.029, "type": "quantitative", "axis": null}, "text": {"field": "s"}}}
],
"resolve": {"axis": {"x": "independent", "y": "independent"}}
}
